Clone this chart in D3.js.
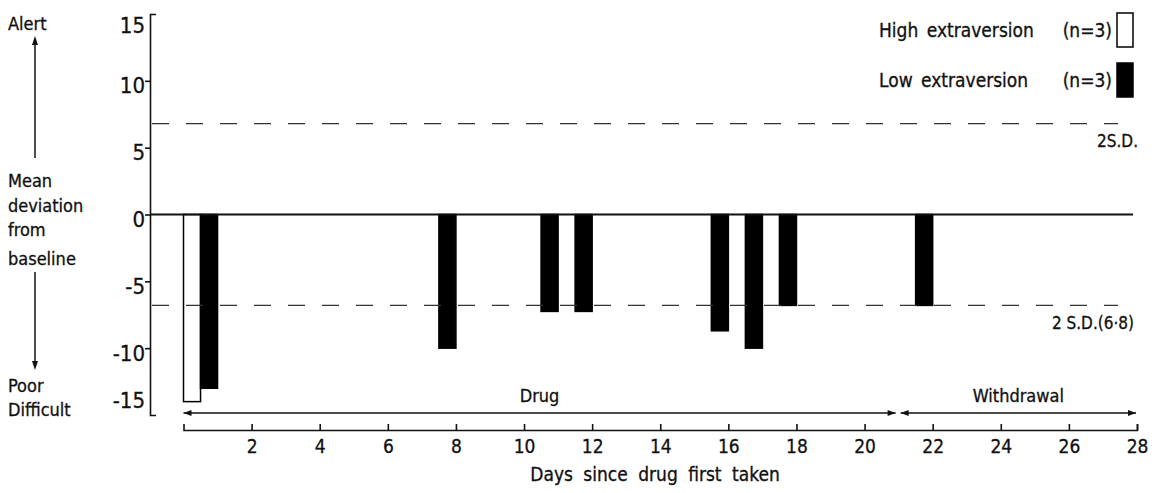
<!DOCTYPE html>
<html>
<head>
<meta charset="utf-8">
<script src="https://cdn.jsdelivr.net/npm/d3@7"></script>
<style>
  body { margin: 0; background: #fff; }
  svg text { font-family: "Liberation Sans Narrow", "DejaVu Sans Condensed", "Roboto Condensed", sans-serif; fill: #111; stroke: #111; stroke-width: 0.3; }
</style>
</head>
<body>
<script>
// days with a non-zero mean deviation (each day's bar pair sits in the interval [day-1, day])
const highDays = [1];
const highValues = [-14];
const lowDays = [1, 8, 11, 12, 16, 17, 18, 22];
const lowValues = [-13, -10, -7.25, -7.25, -8.7, -10, -6.8, -6.8];
const sdLevel = 6.8;
const yTicks = [-15, -10, -5, 0, 5, 10, 15];
const xTicks = [2, 4, 6, 8, 10, 12, 14, 16, 18, 20, 22, 24, 26, 28];
const phaseNames = ["Drug", "Withdrawal"];
const phaseBounds = [[0, 21], [21, 28]];
const groups = ["high", "low"];
const groupLabels = ["High extraversion", "Low extraversion"];
const groupN = [3, 3];

const width = 1163, height = 493;

const svg = d3.select("body").append("svg")
    .attr("width", width)
    .attr("height", height);

const x = d3.scaleLinear().domain([0, 28]).range([183.5, 1137]);
const y = d3.scaleLinear().domain([-15, 15]).range([415, 14]);
const sub = d3.scaleBand().domain(groups).range([0, x(1) - x(0)]);
const fill = d3.scaleOrdinal().domain(groups).range(["#fff", "#000"]);

const bars = [
  ...highDays.map((d, i) => ({day: d, value: highValues[i], key: "high"})),
  ...lowDays.map((d, i) => ({day: d, value: lowValues[i], key: "low"}))
];

// bars
svg.append("g")
  .selectAll("rect")
  .data(bars)
  .enter().append("rect")
    .attr("x", d => x(d.day - 1) + sub(d.key))
    .attr("y", y(0))
    .attr("width", sub.bandwidth())
    .attr("height", d => y(d.value) - y(0))
    .attr("fill", d => fill(d.key))
    .attr("stroke", "#000")
    .attr("stroke-width", 1.5);

// zero line
svg.append("line")
    .attr("x1", 150).attr("x2", 1133)
    .attr("y1", y(0)).attr("y2", y(0))
    .attr("stroke", "#111").attr("stroke-width", 2);

// 2 S.D. lines
svg.append("g")
  .selectAll("line")
  .data([sdLevel, -sdLevel])
  .enter().append("line")
    .attr("x1", 152).attr("x2", 1118)
    .attr("y1", d => y(d)).attr("y2", d => y(d))
    .attr("stroke", "#333")
    .attr("stroke-width", 1.3)
    .attr("stroke-dasharray", "17,17");

svg.append("text")
    .attr("x", 1138).attr("y", y(sdLevel) + 23)
    .attr("text-anchor", "end")
    .attr("font-size", 17)
    .text("2S.D.");
svg.append("text")
    .attr("x", 1134).attr("y", y(-sdLevel) + 24)
    .attr("text-anchor", "end")
    .attr("font-size", 17)
    .text("2 S.D.(6·8)");

// y axis
const yAxis = svg.append("g")
    .attr("transform", "translate(150,0)")
    .call(d3.axisLeft(y).tickValues(yTicks).tickFormat(d => String(d))
      .tickSizeInner(5).tickSizeOuter(-6).tickPadding(0));
yAxis.selectAll("path, line").attr("stroke", "#111").attr("stroke-width", 1.6);
yAxis.selectAll(".tick line").filter(d => Math.abs(d) === 15).remove();
yAxis.selectAll("text")
    .attr("font-size", 22)
    .attr("font-family", "Liberation Sans Narrow, DejaVu Sans Condensed, sans-serif")
    .attr("dy", d => d === 15 ? "0.85em" : d === -15 ? "-0.35em" : "0.55em");

// x axis
const xAxis = svg.append("g")
    .attr("transform", "translate(0,430)")
    .call(d3.axisBottom(x).tickValues(xTicks).tickSizeInner(-6).tickSizeOuter(-6).tickPadding(10));
xAxis.selectAll("path, line").attr("stroke", "#111").attr("stroke-width", 1.6);
xAxis.selectAll("text")
    .attr("font-size", 19)
    .attr("font-family", "Liberation Sans Narrow, DejaVu Sans Condensed, sans-serif");

svg.append("text")
    .attr("x", 655).attr("y", 481)
    .attr("text-anchor", "middle")
    .attr("font-size", 19)
    .attr("word-spacing", 5)
    .text("Days since drug first taken");

// phase arrows
const arrowHead = (px, py, dir) => `M${px},${py}L${px - dir * 8},${py - 3}L${px - dir * 8},${py + 3}Z`;
const phases = svg.append("g");
phaseNames.forEach((name, i) => {
  const x0 = x(phaseBounds[i][0]) + (i === 0 ? 0 : 2);
  const x1 = x(phaseBounds[i][1]) - (i === 0 ? 3 : 1);
  phases.append("line")
      .attr("x1", x0).attr("x2", x1)
      .attr("y1", 413).attr("y2", 413)
      .attr("stroke", "#111").attr("stroke-width", 1.5);
  phases.append("path").attr("d", arrowHead(x0, 413, -1)).attr("fill", "#111");
  phases.append("path").attr("d", arrowHead(x1, 413, 1)).attr("fill", "#111");
  phases.append("text")
      .attr("x", (x0 + x1) / 2).attr("y", 402)
      .attr("text-anchor", "middle")
      .attr("font-size", 18)
      .text(name);
});

// legend
const legend = svg.append("g");
groups.forEach((g, i) => {
  const cy = 30 + i * 50;
  legend.append("text")
      .attr("x", 879).attr("y", cy + 7)
      .attr("font-size", 19)
      .attr("word-spacing", 3)
      .text(groupLabels[i]);
  legend.append("text")
      .attr("x", 1112).attr("y", cy + 7)
      .attr("text-anchor", "end")
      .attr("font-size", 19)
      .text(`(n=${groupN[i]})`);
  legend.append("rect")
      .attr("x", 1117).attr("y", cy - 17)
      .attr("width", 16).attr("height", 34)
      .attr("fill", fill(g))
      .attr("stroke", "#000").attr("stroke-width", 1.5);
});

// left-hand scale description
const side = svg.append("g");
const sideText = [["Alert", 30], ["Mean", 187], ["deviation", 212], ["from", 236], ["baseline", 265], ["Poor", 392], ["Difficult", 416]];
side.selectAll("text")
  .data(sideText)
  .enter().append("text")
    .attr("x", 8).attr("y", d => d[1])
    .attr("font-size", 18)
    .text(d => d[0]);
side.append("line").attr("x1", 35).attr("x2", 35).attr("y1", 44).attr("y2", 158)
    .attr("stroke", "#111").attr("stroke-width", 1.5);
side.append("path").attr("d", "M35,36L32,45L38,45Z").attr("fill", "#111");
side.append("line").attr("x1", 35).attr("x2", 35).attr("y1", 272).attr("y2", 362)
    .attr("stroke", "#111").attr("stroke-width", 1.5);
side.append("path").attr("d", "M35,370L32,361L38,361Z").attr("fill", "#111");
</script>
</body>
</html>
